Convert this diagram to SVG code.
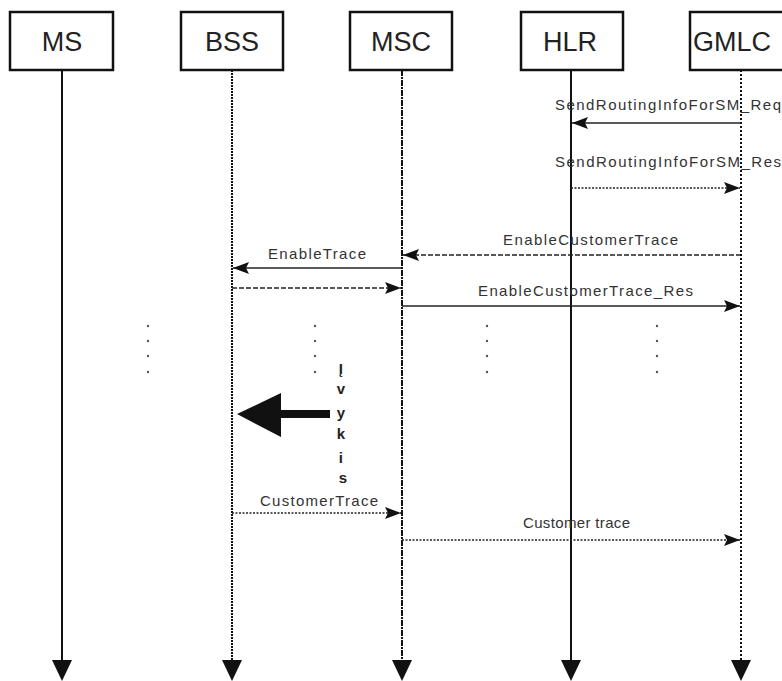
<svg xmlns="http://www.w3.org/2000/svg" width="782" height="681" viewBox="0 0 782 681">
  <style>
    .box { fill: #fff; stroke: #111; stroke-width: 2.5; }
    .name { font-family: "Liberation Sans", Arial, sans-serif; font-size: 27px; fill: #222; text-anchor: middle; }
    .life { stroke: #111; stroke-width: 2; fill: none; }
    .msg { stroke: #222; stroke-width: 1.5; fill: none; marker-end: url(#head); }
    .lbl { font-family: "Liberation Sans", Arial, sans-serif; font-size: 15px; fill: #333; }
    .dashed { stroke-dasharray: 5 2; }
    .dotted { stroke-dasharray: 2 1.5; }
    .dot { fill: #555; }
    .evt { font-family: "Liberation Sans", Arial, sans-serif; font-size: 15px; font-weight: bold; fill: #222; text-anchor: middle; }
  </style>
  <defs>
    <marker id="head" viewBox="0 0 16 12" refX="16" refY="6" markerWidth="16" markerHeight="12" markerUnits="userSpaceOnUse" orient="auto">
      <path d="M0,0 L16,6 L0,12 L3,6 z" fill="#111"/>
    </marker>
    <polygon id="down" points="-10,0 10,0 0,21" fill="#111"/>
  </defs>
  <rect width="782" height="681" fill="#fff"/>

  <!-- lifeline owners -->
  <g id="ms">
    <rect class="box" x="10" y="12" width="103" height="58"/>
    <text class="name" x="62" y="51">MS</text>
    <line class="life" x1="62" y1="70" x2="62" y2="661"/>
    <use href="#down" x="62" y="660"/>
  </g>
  <g id="bss">
    <rect class="box" x="181" y="12" width="102" height="58"/>
    <text class="name" x="232" y="51">BSS</text>
    <line class="life" x1="232" y1="70" x2="232" y2="661" stroke-dasharray="2 1"/>
    <use href="#down" x="232" y="660"/>
  </g>
  <g id="msc">
    <rect class="box" x="350" y="12" width="102" height="58"/>
    <text class="name" x="401" y="51">MSC</text>
    <line class="life" x1="402" y1="70" x2="402" y2="661" stroke-dasharray="6 1 2 1"/>
    <use href="#down" x="402" y="660"/>
  </g>
  <g id="hlr">
    <rect class="box" x="521" y="12" width="102" height="58"/>
    <text class="name" x="570" y="51">HLR</text>
    <line class="life" x1="571" y1="70" x2="571" y2="661"/>
    <use href="#down" x="571" y="660"/>
  </g>
  <g id="gmlc">
    <rect class="box" x="690" y="12" width="110" height="58"/>
    <text class="name" x="693" y="51" style="text-anchor:start">GMLC</text>
    <line class="life" x1="741" y1="70" x2="741" y2="661" stroke-width="2.5" stroke-dasharray="2 2"/>
    <use href="#down" x="741" y="660"/>
  </g>

  <!-- messages -->
  <g id="connectors">
    <line class="msg" x1="741" y1="123" x2="572" y2="123"/>
    <line class="msg dotted" x1="571" y1="188" x2="740" y2="188"/>
    <line class="msg dashed" x1="741" y1="255" x2="403" y2="255"/>
    <line class="msg" x1="401" y1="268" x2="233" y2="268"/>
    <line class="msg dashed" x1="232" y1="288" x2="401" y2="288"/>
    <line class="msg" x1="402" y1="306" x2="740" y2="306"/>
    <line class="msg dotted" x1="232" y1="513" x2="401" y2="513"/>
    <line class="msg dotted" x1="402" y1="540" x2="740" y2="540"/>
  </g>

  <g id="labels">
    <text class="lbl" x="555" y="110" textLength="226" lengthAdjust="spacing">SendRoutingInfoForSM_Req</text>
    <text class="lbl" x="555" y="167" textLength="226" lengthAdjust="spacing">SendRoutingInfoForSM_Res</text>
    <text class="lbl" x="503" y="245" textLength="175" lengthAdjust="spacing">EnableCustomerTrace</text>
    <text class="lbl" x="268" y="259" textLength="98" lengthAdjust="spacing">EnableTrace</text>
    <text class="lbl" x="478" y="296" textLength="215" lengthAdjust="spacing">EnableCustomerTrace_Res</text>
    <text class="lbl" x="260" y="506" textLength="118" lengthAdjust="spacing">CustomerTrace</text>
    <text class="lbl" x="523" y="528" textLength="107" lengthAdjust="spacing">Customer trace</text>
  </g>

  <!-- continuation dots between lifelines -->
  <g id="gaps">
    <circle class="dot" cx="148" cy="326" r="1.2"/><circle class="dot" cx="148" cy="341" r="1.2"/><circle class="dot" cx="148" cy="356" r="1.2"/><circle class="dot" cx="148" cy="372" r="1.2"/>
    <circle class="dot" cx="315" cy="326" r="1.2"/><circle class="dot" cx="315" cy="341" r="1.2"/><circle class="dot" cx="315" cy="356" r="1.2"/><circle class="dot" cx="315" cy="372" r="1.2"/>
    <circle class="dot" cx="487" cy="326" r="1.2"/><circle class="dot" cx="487" cy="341" r="1.2"/><circle class="dot" cx="487" cy="356" r="1.2"/><circle class="dot" cx="487" cy="372" r="1.2"/>
    <circle class="dot" cx="657" cy="326" r="1.2"/><circle class="dot" cx="657" cy="341" r="1.2"/><circle class="dot" cx="657" cy="356" r="1.2"/><circle class="dot" cx="657" cy="372" r="1.2"/>
  </g>

  <!-- event marker -->
  <g id="event">
    <polygon points="237,414 281,393 281,410 330,410 330,418 281,418 281,437" fill="#111"/>
    <text class="evt">
      <tspan x="343" y="374">Į</tspan>
      <tspan x="343" y="394">v</tspan>
      <tspan x="343" y="418">y</tspan>
      <tspan x="343" y="439">k</tspan>
      <tspan x="343" y="463">i</tspan>
      <tspan x="343" y="483">s</tspan>
    </text>
  </g>
</svg>
